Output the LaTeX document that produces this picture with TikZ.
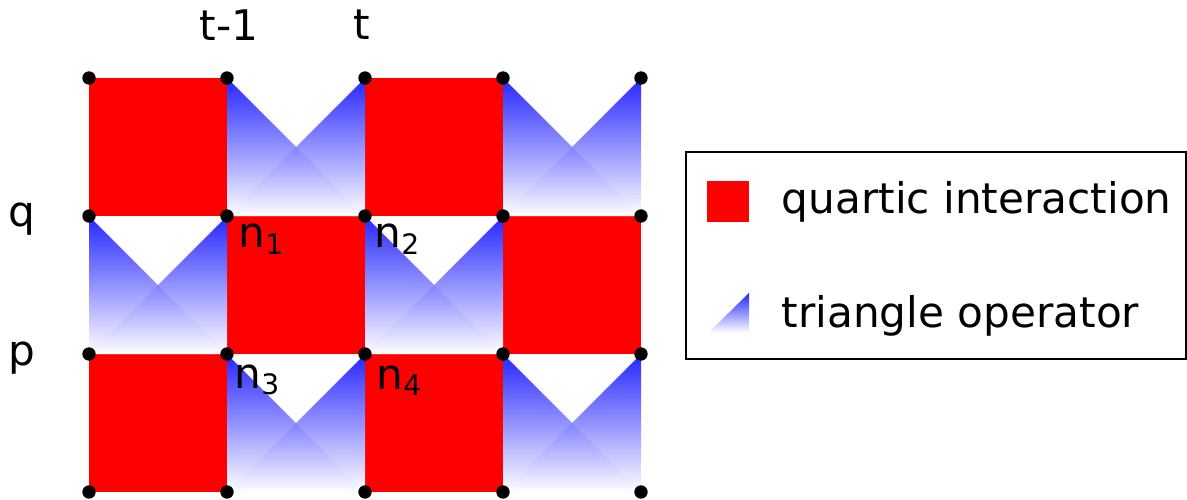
\documentclass[tikz,border=0pt]{standalone}
\usepackage{fontspec}
\setmainfont{DejaVu Sans}
\usetikzlibrary{positioning}
\tikzset{
  quartic/.style={fill=red},
  tri/.style={top color=blue, bottom color=white, fill opacity=0.85},
  dot/.style={circle, fill=black, inner sep=0pt, minimum size=3.8pt},
  lbl/.style={font=\fontsize{12}{14}\selectfont, inner sep=0pt}
}
\begin{document}
\begin{tikzpicture}[x=0.01cm, y=-0.01cm]
    \useasboundingbox (0,0) rectangle (1187,500);

    % 格点
    \foreach \i in {0,...,4} {
      \foreach \j in {0,...,3} {
        \coordinate (g-\i-\j) at (89+138*\i, 78+138*\j);
      }
    }

    % 四次相互作用 (红色方块)
    \foreach \i/\j in {0/0, 2/0, 1/1, 3/1, 0/2, 2/2} {
      \pgfmathtruncatemacro{\ii}{\i+1}
      \pgfmathtruncatemacro{\jj}{\j+1}
      \fill[quartic] (g-\i-\j) rectangle (g-\ii-\jj);
    }

    % 三角算子 (渐变三角形)
    \foreach \i/\j in {1/0, 3/0, 0/1, 2/1, 1/2, 3/2} {
      \pgfmathtruncatemacro{\ii}{\i+1}
      \pgfmathtruncatemacro{\jj}{\j+1}
      \shade[tri] (g-\i-\j) -- (g-\i-\jj) -- (g-\ii-\jj) -- cycle;
      \shade[tri] (g-\ii-\j) -- (g-\ii-\jj) -- (g-\i-\jj) -- cycle;
    }

    % 格点上的黑点
    \foreach \i in {0,...,4} {
      \foreach \j in {0,...,3} {
        \node[dot] (d-\i-\j) at (g-\i-\j) {};
      }
    }

    % 时间与位置标注
    \node[lbl] (tm) at (229,25) {t-1};
    \node[lbl] (tt) at (362,25) {t};
    \node[lbl] (q) at (22,219) {q};
    \node[lbl] (p) at (22,358) {p};

    % 顶点标注
    \node[lbl, anchor=base west] (n1) at (238,248) {n\textsubscript{1}};
    \node[lbl, anchor=base west] (n2) at (374,248) {n\textsubscript{2}};
    \node[lbl, anchor=base west] (n3) at (234,388) {n\textsubscript{3}};
    \node[lbl, anchor=base west] (n4) at (376,389) {n\textsubscript{4}};

    % 图例
    \draw[line width=0.4pt] (686,152) rectangle (1186,359);
    \fill[quartic] (707,181) rectangle (749,222);
    \shade[tri] (708,333) -- (749,293) -- (749,333) -- cycle;
    \node[lbl, anchor=base west] (lq) at (781,213) {quartic interaction};
    \node[lbl, anchor=base west] (lt) at (781,327) {triangle operator};
\end{tikzpicture}
\end{document}
